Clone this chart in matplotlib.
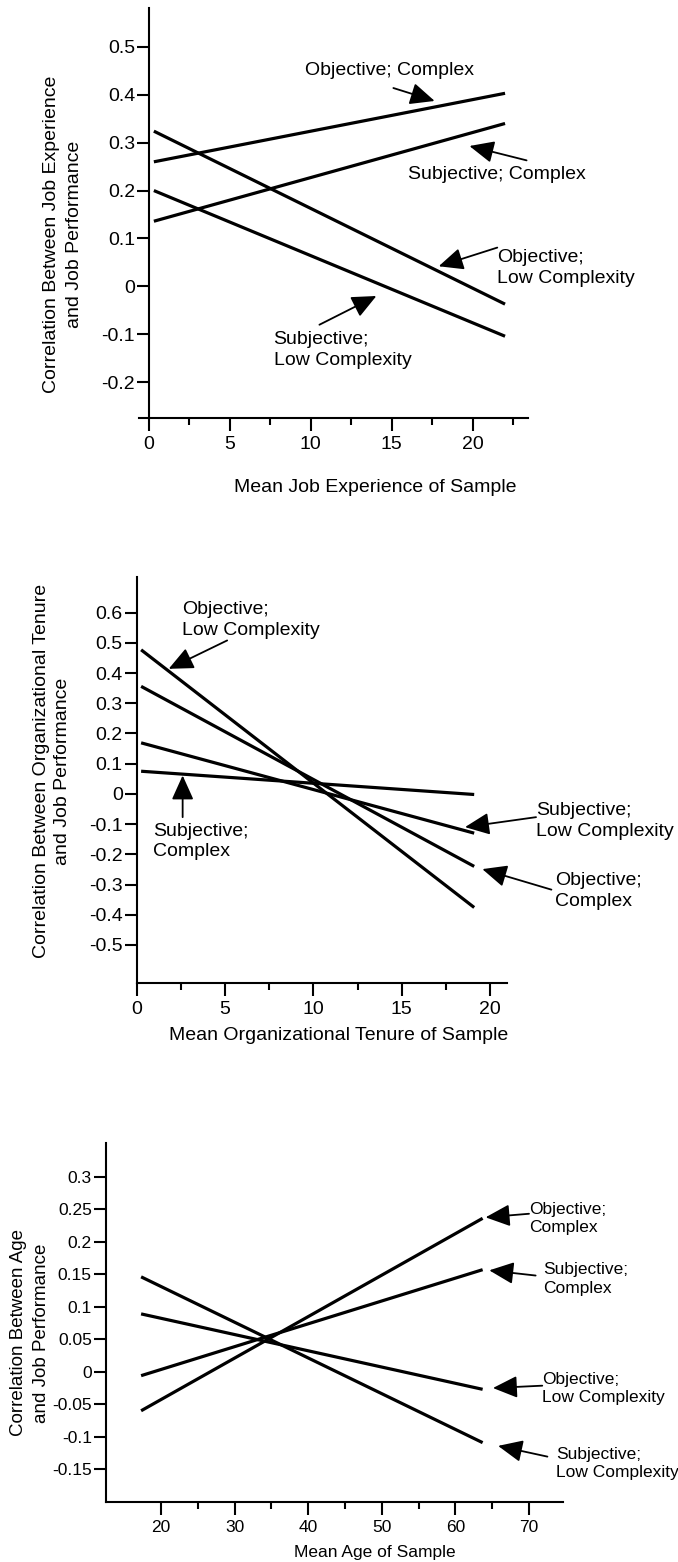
import numpy as np
import matplotlib
matplotlib.use("Agg")
import matplotlib.pyplot as plt

plt.rcParams['font.family'] = ['Liberation Sans', 'DejaVu Sans']

# --- data (start / end of each regression line) ---
exp_x = [0.3, 22.0]
exp_obj_complex = [0.26, 0.403]
exp_subj_complex = [0.136, 0.34]
exp_obj_low = [0.324, -0.037]
exp_subj_low = [0.2, -0.104]

ten_x = [0.25, 19.1]
ten_obj_low = [0.477, -0.376]
ten_obj_complex = [0.356, -0.24]
ten_subj_low = [0.169, -0.13]
ten_subj_complex = [0.075, -0.002]

age_x = [17.3, 63.7]
age_obj_complex = [-0.060, 0.236]
age_subj_complex = [-0.006, 0.157]
age_obj_low = [0.089, -0.027]
age_subj_low = [0.146, -0.109]

exp_yticks = [0.5, 0.4, 0.3, 0.2, 0.1, 0, -0.1, -0.2]
exp_ylabels = ['0.5', '0.4', '0.3', '0.2', '0.1', '0', '-0.1', '-0.2']
ten_yticks = [0.6, 0.5, 0.4, 0.3, 0.2, 0.1, 0, -0.1, -0.2, -0.3, -0.4, -0.5]
ten_ylabels = ['0.6', '0.5', '0.4', '0.3', '0.2', '0.1', '0', '-0.1', '-0.2',
               '-0.3', '-0.4', '-0.5']
age_yticks = [0.3, 0.25, 0.2, 0.15, 0.1, 0.05, 0, -0.05, -0.1, -0.15]
age_ylabels = ['0.3', '0.25', '0.2', '0.15', '0.1', '0.05', '0', '-0.05',
               '-0.1', '-0.15']

W, H = 678, 1562
fig = plt.figure(figsize=(W / 100, H / 100), dpi=100)


def px_axes(left, top, right, bottom):
    """Add axes given pixel box (origin top-left)."""
    return fig.add_axes([left / W, 1 - bottom / H, (right - left) / W, (bottom - top) / H])


def style_axes(ax, fs):
    for s in ['top', 'right']:
        ax.spines[s].set_visible(False)
    for s in ['left', 'bottom']:
        ax.spines[s].set_linewidth(1.5)
    ax.tick_params(which='major', length=9, width=1.5, labelsize=fs, pad=1)
    ax.tick_params(axis='x', which='major', pad=4)
    ax.tick_params(which='minor', length=5, width=1.5)
    ax.tick_params(axis='y', which='minor', left=False)


def arrow(ax, tail, tip):
    ax.annotate('', xy=tip, xytext=tail,
                arrowprops=dict(arrowstyle='-|>,head_length=0.6,head_width=0.27',
                                mutation_scale=25, lw=1.3, color='black',
                                shrinkA=0, shrinkB=0),
                annotation_clip=False)


LW = 2.3
LS = 1.3  # line spacing of the two-line callouts

# ---------------- panel 1: job experience ----------------
ax1 = px_axes(139.3, 8, 527.7, 417.7)
for y in [exp_obj_complex, exp_subj_complex, exp_obj_low, exp_subj_low]:
    ax1.plot(exp_x, y, color='black', lw=LW, solid_capstyle='butt')
ax1.set_xlim(-0.6, 23.4)
ax1.set_ylim(-0.274, 0.581)
ax1.spines['left'].set_position(('data', 0))
style_axes(ax1, 14)
ax1.set_xticks([0, 5, 10, 15, 20])
ax1.set_xticks([2.5, 7.5, 12.5, 17.5, 22.5], minor=True)
ax1.set_yticks(exp_yticks)
ax1.set_yticklabels(exp_ylabels)

fs1 = 14
ax1.text(14.85, 0.45, 'Objective; Complex', fontsize=fs1, ha='center', va='center')
arrow(ax1, (15.1, 0.414), (17.65, 0.387))
ax1.text(21.5, 0.234, 'Subjective; Complex', fontsize=fs1, ha='center', va='center')
arrow(ax1, (23.33, 0.263), (19.8, 0.293))
ax1.text(21.5, 0.0385, 'Objective;\nLow Complexity', fontsize=fs1, ha='left',
         va='center', linespacing=LS)
arrow(ax1, (21.52, 0.081), (17.9, 0.042))
ax1.text(7.7, -0.1325, 'Subjective;\nLow Complexity', fontsize=fs1, ha='left',
         va='center', linespacing=LS)
arrow(ax1, (10.53, -0.08), (14.05, -0.02))

fig.text(63 / W, 1 - 234.6 / H, 'Correlation Between Job Experience\nand Job Performance',
         rotation=90, ha='center', va='center', fontsize=14, linespacing=1.45)
fig.text(374.8 / W, 1 - 487 / H, 'Mean Job Experience of Sample', ha='center',
         va='center', fontsize=14)

# ---------------- panel 2: organizational tenure ----------------
ax2 = px_axes(136.7, 577.3, 506.7, 983.3)
for y in [ten_obj_low, ten_obj_complex, ten_subj_low, ten_subj_complex]:
    ax2.plot(ten_x, y, color='black', lw=LW, solid_capstyle='butt')
ax2.set_xlim(0, 20.94)
ax2.set_ylim(-0.627, 0.717)
style_axes(ax2, 14)
ax2.set_xticks([0, 5, 10, 15, 20])
ax2.set_xticks([2.5, 7.5, 12.5, 17.5], minor=True)
ax2.set_yticks(ten_yticks)
ax2.set_yticklabels(ten_ylabels)

fs2 = 14
ax2.text(2.55, 0.5745, 'Objective;\nLow Complexity', fontsize=fs2, ha='left',
         va='center', linespacing=LS)
arrow(ax2, (5.12, 0.508), (1.81, 0.414))
ax2.text(0.95, -0.1575, 'Subjective;\nComplex', fontsize=fs2, ha='left',
         va='center', linespacing=LS)
arrow(ax2, (2.6, -0.077), (2.6, 0.061))
ax2.text(22.6, -0.0885, 'Subjective;\nLow Complexity', fontsize=fs2, ha='left',
         va='center', linespacing=LS)
arrow(ax2, (22.6, -0.077), (18.58, -0.11))
ax2.text(23.67, -0.3205, 'Objective;\nComplex', fontsize=fs2, ha='left',
         va='center', linespacing=LS)
arrow(ax2, (23.47, -0.317), (19.56, -0.249))

fig.text(52 / W, 1 - 771 / H, 'Correlation Between Organizational Tenure\nand Job Performance',
         rotation=90, ha='center', va='center', fontsize=14, linespacing=1.3)
fig.text(339 / W, 1 - 1036 / H, 'Mean Organizational Tenure of Sample', ha='center',
         va='center', fontsize=14)

# ---------------- panel 3: age ----------------
ax3 = px_axes(105.7, 1142.7, 563.3, 1502)
for y in [age_obj_complex, age_subj_complex, age_obj_low, age_subj_low]:
    ax3.plot(age_x, y, color='black', lw=LW, solid_capstyle='butt')
ax3.set_xlim(12.49, 74.66)
ax3.set_ylim(-0.2003, 0.3523)
style_axes(ax3, 12.5)
ax3.set_xticks([20, 30, 40, 50, 60, 70])
ax3.set_xticks([25, 35, 45, 55, 65], minor=True)
ax3.set_yticks(age_yticks)
ax3.set_yticklabels(age_ylabels)

fs3 = 12.5
ax3.text(70, 0.2355, 'Objective;\nComplex', fontsize=fs3, ha='left',
         va='center', linespacing=LS)
arrow(ax3, (70, 0.243), (64.1, 0.2375))
ax3.text(71.9, 0.1425, 'Subjective;\nComplex', fontsize=fs3, ha='left',
         va='center', linespacing=LS)
arrow(ax3, (70.9, 0.148), (64.6, 0.156))
ax3.text(71.8, -0.026, 'Objective;\nLow Complexity', fontsize=fs3, ha='left',
         va='center', linespacing=LS)
arrow(ax3, (71.8, -0.0214), (65.1, -0.025))
ax3.text(73.7, -0.141, 'Subjective;\nLow Complexity', fontsize=fs3, ha='left',
         va='center', linespacing=LS)
arrow(ax3, (72.5, -0.1305), (65.8, -0.114))

fig.text(30 / W, 1 - 1333 / H, 'Correlation Between Age\nand Job Performance',
         rotation=90, ha='center', va='center', fontsize=13.5, linespacing=1.4)
fig.text(375 / W, 1 - 1552 / H, 'Mean Age of Sample', ha='center',
         va='center', fontsize=12.5)

fig.savefig('out.png', dpi=100, facecolor='white')
